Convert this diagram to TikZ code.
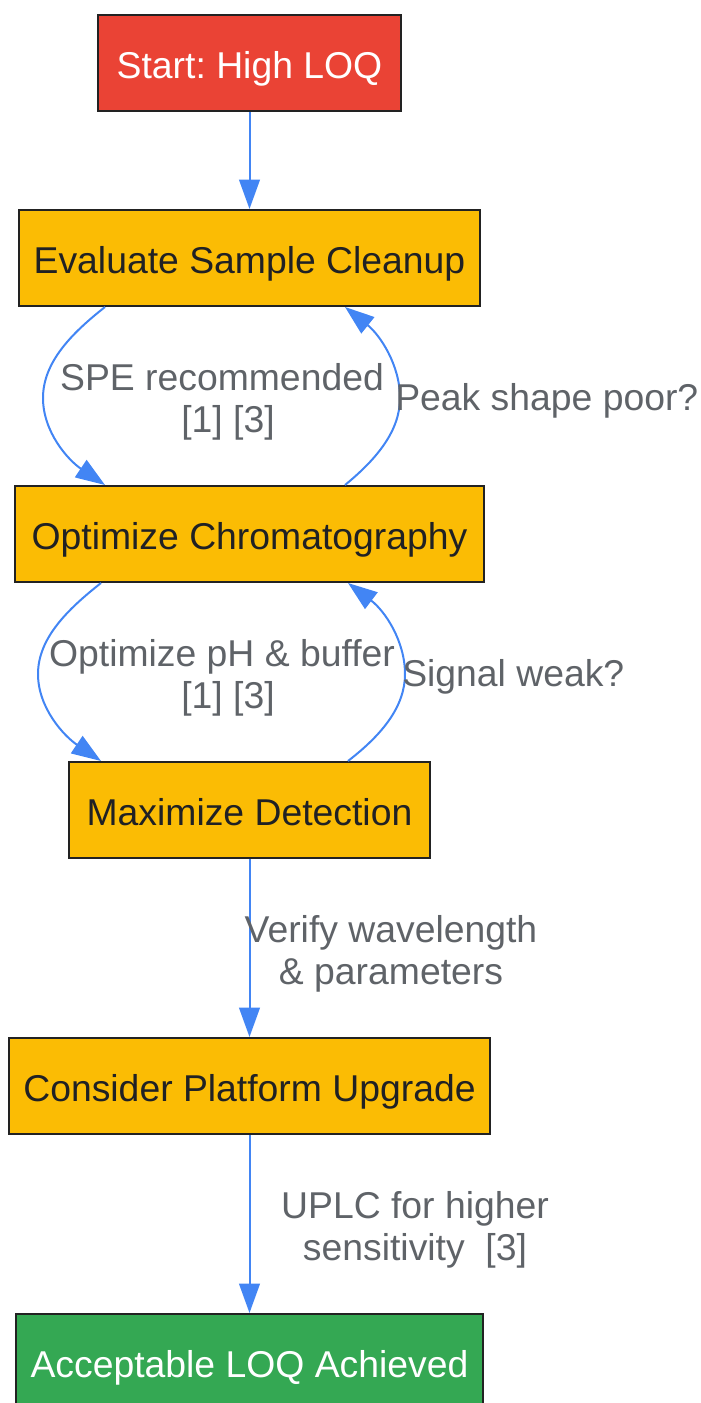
\documentclass[tikz,border=0pt]{standalone}
\usepackage{fontspec}
\setmainfont{Liberation Sans}
\usetikzlibrary{arrows.meta,calc}
\frenchspacing
\definecolor{cred}{HTML}{EA4335}
\definecolor{cyel}{HTML}{FBBC04}
\definecolor{cgrn}{HTML}{34A853}
\definecolor{cblue}{HTML}{4285F4}
\definecolor{cdark}{HTML}{202124}
\definecolor{cgray}{HTML}{5F6368}
\definecolor{cborder}{HTML}{222222}
\tikzset{
  box/.style={draw=cborder, line width=1.5pt, minimum height=72pt, inner sep=0pt,
    text height=23.6pt, text depth=0pt,
    font=\fontsize{28pt}{31.5pt}\selectfont, text=cdark, fill=cyel},
  startbox/.style={box, fill=cred, text=white},
  endbox/.style={box, fill=cgrn, text=white},
  conn/.style={draw=cblue, line width=1.5pt, -{Triangle[length=22pt,width=15.5pt]}},
  elabel/.style={text=cgray, font=\fontsize{28pt}{31.5pt}\selectfont, align=center, inner sep=0pt}
}
\begin{document}
\begin{tikzpicture}[x=0.75pt,y=-0.75pt]
\useasboundingbox (0,0) rectangle (700,1403);
\clip (0,0) rectangle (700,1403);
\node[startbox, minimum width=227.25pt] (start) at (249.5,63) {Start: High LOQ};
\node[box, minimum width=345.75pt] (eval) at (249.5,258) {Evaluate Sample Cleanup};
\node[box, minimum width=351.75pt] (chrom) at (249.5,534) {Optimize Chromatography};
\node[box, minimum width=270.75pt] (detect) at (249.5,810) {Maximize Detection};
\node[box, minimum width=360.75pt] (plat) at (249.5,1086) {Consider Platform Upgrade};
\node[endbox, minimum width=350.25pt] (accept) at (249.5,1362) {Acceptable LOQ Achieved};

\draw[conn] (start) -- (eval);
\draw[conn] ($(eval.south)+(-144.5,0)$) .. controls (72,333) and (43,362) .. (43,398)
  .. controls (43,432) and (68,460) .. ($(chrom.north)+(-144.5,0)$);
\draw[conn] ($(chrom.north)+(95.5,0)$) .. controls (378,458) and (400,430) .. (400,398)
  .. controls (400,365) and (380,335) .. ($(eval.south)+(95.5,0)$);
\draw[conn] ($(chrom.south)+(-148.5,0)$) .. controls (68,609) and (38,638) .. (38,674)
  .. controls (38,708) and (64,736) .. ($(detect.north)+(-148.5,0)$);
\draw[conn] ($(detect.north)+(98.5,0)$) .. controls (383,734) and (405,706) .. (405,674)
  .. controls (405,641) and (385,611) .. ($(chrom.south)+(98.5,0)$);
\draw[conn] (detect) -- (plat);
\draw[conn] (plat) -- (accept);

\node[elabel] (l1) at (222,402) {SPE recommended\\{\hspace*{9pt}[1] [3]}};
\node[elabel, anchor=west] (l2) at (395,401) {Peak shape poor?};
\node[elabel] (l3) at (222,678) {Optimize pH \& buffer\\{\hspace*{9pt}[1] [3]}};
\node[elabel, anchor=west] (l4) at (402,677) {Signal weak?};
\node[elabel] (l5) at (391,954) {Verify wavelength\\\& parameters};
\node[elabel] (l6) at (415,1230) {UPLC for higher\\sensitivity\ \ [3]};
\end{tikzpicture}
\end{document}
